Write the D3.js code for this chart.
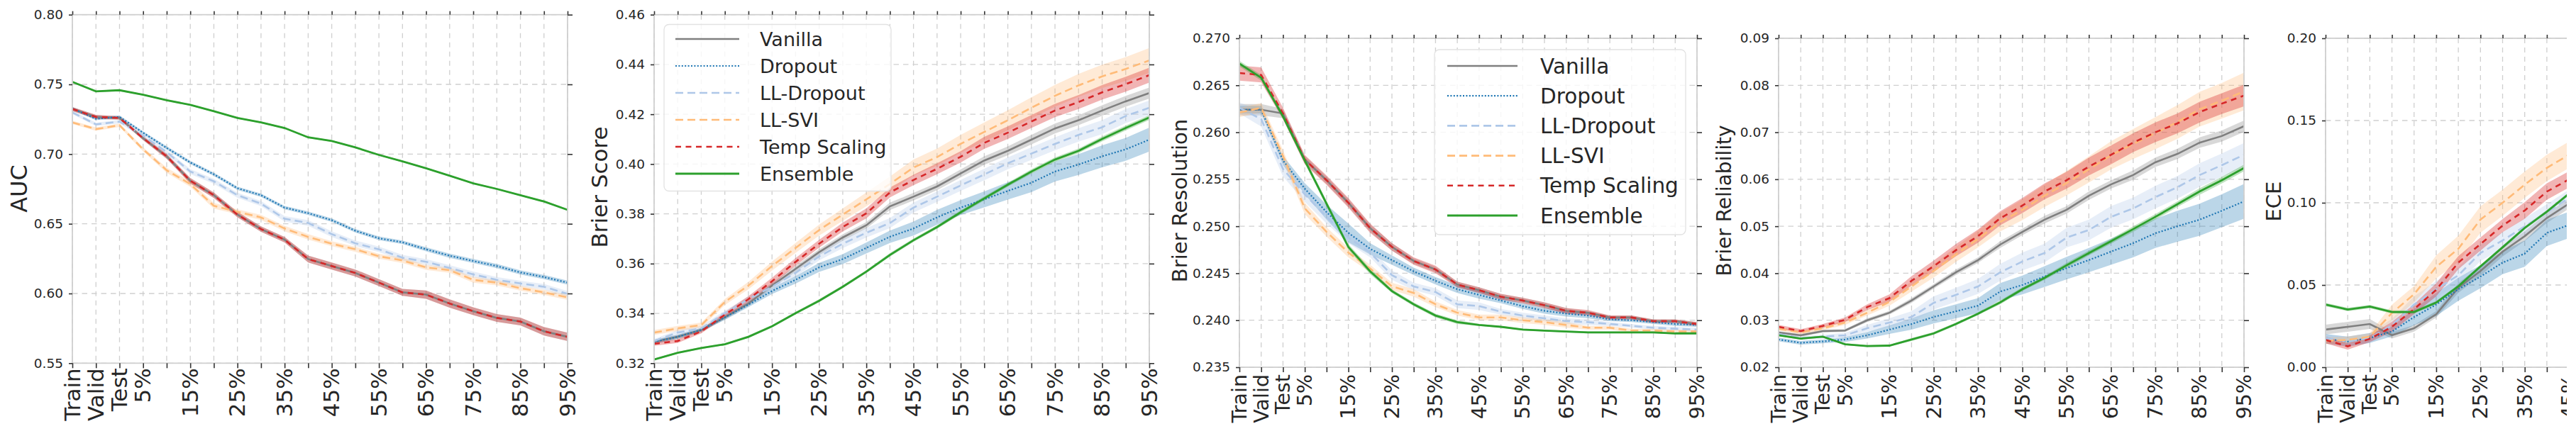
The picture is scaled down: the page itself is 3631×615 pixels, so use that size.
<!DOCTYPE html>
<html>
<head>
<meta charset="utf-8">
<script src="https://cdn.jsdelivr.net/npm/d3@7"></script>
<style>
    body { margin: 0; background: #fff; }
    text { font-family: "DejaVu Sans", sans-serif; fill: #262626; }
</style>
</head>
<body>
<svg id="chart" width="3631" height="615"></svg>
<script>

// Data
//-----
var categories = ["Train", "Valid", "Test", "5%", "10%", "15%", "20%", "25%", "30%", "35%", "40%",
    "45%", "50%", "55%", "60%", "65%", "70%", "75%", "80%", "85%", "90%", "95%"];
var tickLabels = ["Train", "Valid", "Test", "5%", "", "15%", "", "25%", "", "35%", "",
    "45%", "", "55%", "", "65%", "", "75%", "", "85%", "", "95%"];

var methods = ["Vanilla", "Dropout", "LL-Dropout", "LL-SVI", "Temp Scaling", "Ensemble"];

var aucTicks = [0.55, 0.60, 0.65, 0.70, 0.75, 0.80];
var brierTicks = [0.32, 0.34, 0.36, 0.38, 0.40, 0.42, 0.44, 0.46];
var resolutionTicks = [0.235, 0.240, 0.245, 0.250, 0.255, 0.260, 0.265, 0.270];
var reliabilityTicks = [0.02, 0.03, 0.04, 0.05, 0.06, 0.07, 0.08, 0.09];
var eceTicks = [0.00, 0.05, 0.10, 0.15, 0.20];

// rows follow the order of methods
var aucMean = [
    [0.7323, 0.7267, 0.7259, 0.7114, 0.6984, 0.6809, 0.6705, 0.6566, 0.6462, 0.6386, 0.6247, 0.6197, 0.6147, 0.6078, 0.6008, 0.5992, 0.5928, 0.5873, 0.5825, 0.5799, 0.5729, 0.5689],
    [0.7327, 0.7253, 0.7267, 0.7153, 0.7044, 0.6940, 0.6855, 0.6755, 0.6705, 0.6616, 0.6576, 0.6526, 0.6450, 0.6396, 0.6367, 0.6317, 0.6271, 0.6233, 0.6197, 0.6151, 0.6118, 0.6078],
    [0.7299, 0.7213, 0.7233, 0.7133, 0.7014, 0.6875, 0.6805, 0.6705, 0.6645, 0.6536, 0.6506, 0.6426, 0.6360, 0.6317, 0.6257, 0.6227, 0.6183, 0.6137, 0.6098, 0.6072, 0.6048, 0.5998],
    [0.7227, 0.7179, 0.7207, 0.7034, 0.6884, 0.6785, 0.6629, 0.6586, 0.6546, 0.6466, 0.6406, 0.6357, 0.6317, 0.6267, 0.6237, 0.6187, 0.6167, 0.6098, 0.6078, 0.6038, 0.6008, 0.5972],
    [0.7323, 0.7267, 0.7259, 0.7114, 0.6984, 0.6809, 0.6705, 0.6566, 0.6462, 0.6386, 0.6247, 0.6197, 0.6147, 0.6078, 0.6008, 0.5992, 0.5928, 0.5873, 0.5825, 0.5799, 0.5729, 0.5689],
    [0.7518, 0.7450, 0.7458, 0.7426, 0.7386, 0.7353, 0.7307, 0.7259, 0.7227, 0.7187, 0.7120, 0.7094, 0.7048, 0.6994, 0.6948, 0.6898, 0.6845, 0.6790, 0.6750, 0.6705, 0.6660, 0.6600]
];
var aucBand = [
    [0.0015, 0.0015, 0.0012, 0.0015, 0.0018, 0.002, 0.002, 0.002, 0.002, 0.002, 0.0025, 0.0025, 0.0025, 0.0025, 0.0025, 0.003, 0.003, 0.0028, 0.0028, 0.0028, 0.003, 0.003],
    [0.001, 0.001, 0.001, 0.001, 0.0012, 0.0012, 0.0012, 0.0012, 0.0012, 0.0012, 0.0013, 0.0013, 0.0013, 0.0013, 0.0013, 0.0015, 0.0015, 0.0015, 0.0015, 0.0015, 0.0015, 0.0015],
    [0.0012, 0.0012, 0.0012, 0.0015, 0.0015, 0.0018, 0.0018, 0.0018, 0.0018, 0.002, 0.002, 0.002, 0.002, 0.002, 0.002, 0.002, 0.002, 0.002, 0.002, 0.002, 0.002, 0.002],
    [0.0012, 0.0012, 0.0012, 0.0015, 0.0018, 0.002, 0.002, 0.0018, 0.0018, 0.002, 0.002, 0.0018, 0.0018, 0.0018, 0.0018, 0.0018, 0.0018, 0.002, 0.002, 0.0018, 0.0018, 0.0018],
    [0.0015, 0.0015, 0.0012, 0.0015, 0.0018, 0.002, 0.002, 0.002, 0.002, 0.002, 0.0025, 0.0025, 0.0025, 0.0025, 0.0025, 0.003, 0.003, 0.0028, 0.0028, 0.0028, 0.003, 0.003],
    [0.0006, 0.0006, 0.0006, 0.0006, 0.0006, 0.0006, 0.0006, 0.0006, 0.0006, 0.0006, 0.0006, 0.0006, 0.0006, 0.0006, 0.0006, 0.0006, 0.0006, 0.0006, 0.0006, 0.0006, 0.0006, 0.0006]
];

var brierMean = [
    [0.3286, 0.3306, 0.3334, 0.3384, 0.3440, 0.3512, 0.3579, 0.3646, 0.3705, 0.3754, 0.3830, 0.3869, 0.3910, 0.3962, 0.4014, 0.4053, 0.4098, 0.4143, 0.4176, 0.4215, 0.4252, 0.4285],
    [0.3286, 0.3306, 0.3334, 0.3384, 0.3435, 0.3490, 0.3535, 0.3585, 0.3618, 0.3663, 0.3708, 0.3741, 0.3786, 0.3825, 0.3858, 0.3892, 0.3925, 0.3970, 0.3998, 0.4031, 0.4059, 0.4098],
    [0.3289, 0.3323, 0.3340, 0.3401, 0.3457, 0.3507, 0.3563, 0.3629, 0.3680, 0.3724, 0.3763, 0.3825, 0.3869, 0.3914, 0.3958, 0.4003, 0.4042, 0.4081, 0.4117, 0.4148, 0.4193, 0.4226],
    [0.3323, 0.3340, 0.3353, 0.3446, 0.3512, 0.3590, 0.3663, 0.3735, 0.3797, 0.3858, 0.3920, 0.3986, 0.4028, 0.4081, 0.4129, 0.4176, 0.4226, 0.4274, 0.4316, 0.4352, 0.4382, 0.4416],
    [0.3278, 0.3289, 0.3328, 0.3395, 0.3457, 0.3529, 0.3607, 0.3680, 0.3747, 0.3802, 0.3886, 0.3936, 0.3981, 0.4029, 0.4085, 0.4126, 0.4171, 0.4215, 0.4249, 0.4288, 0.4321, 0.4357],
    [0.3215, 0.3242, 0.3261, 0.3276, 0.3306, 0.3348, 0.3401, 0.3451, 0.3507, 0.3568, 0.3635, 0.3694, 0.3747, 0.3806, 0.3862, 0.3917, 0.3970, 0.4018, 0.4053, 0.4101, 0.4145, 0.4187]
];
var brierBand = [
    [0.0008, 0.0008, 0.0008, 0.0008, 0.001, 0.001, 0.0012, 0.0012, 0.0013, 0.0013, 0.0015, 0.0015, 0.0015, 0.0016, 0.0017, 0.0018, 0.0019, 0.002, 0.002, 0.0021, 0.0022, 0.0022],
    [0.0008, 0.0008, 0.0008, 0.001, 0.001, 0.0012, 0.0015, 0.0018, 0.002, 0.0022, 0.0025, 0.0028, 0.003, 0.003, 0.0032, 0.0035, 0.0038, 0.004, 0.0042, 0.0044, 0.0046, 0.0048],
    [0.0008, 0.001, 0.001, 0.001, 0.0012, 0.0014, 0.0015, 0.0016, 0.0018, 0.0019, 0.002, 0.002, 0.0021, 0.0022, 0.0023, 0.0024, 0.0025, 0.0026, 0.0027, 0.0028, 0.0028, 0.0029],
    [0.001, 0.001, 0.001, 0.0012, 0.0015, 0.0018, 0.002, 0.0022, 0.0025, 0.0028, 0.003, 0.0032, 0.0034, 0.0036, 0.0038, 0.004, 0.0042, 0.0044, 0.0046, 0.0047, 0.0048, 0.005],
    [0.0008, 0.0008, 0.0008, 0.001, 0.0012, 0.0014, 0.0015, 0.0016, 0.0018, 0.002, 0.002, 0.0021, 0.0022, 0.0023, 0.0024, 0.0025, 0.0026, 0.0027, 0.0028, 0.0029, 0.003, 0.003],
    [0.0004, 0.0004, 0.0004, 0.0004, 0.0005, 0.0005, 0.0005, 0.0006, 0.0006, 0.0006, 0.0007, 0.0007, 0.0007, 0.0008, 0.0008, 0.0008, 0.0009, 0.0009, 0.0009, 0.001, 0.001, 0.001]
];

var resolutionMean = [
    [0.2624, 0.2624, 0.2620, 0.2571, 0.2549, 0.2525, 0.2498, 0.2478, 0.2463, 0.2454, 0.2438, 0.2432, 0.2425, 0.2421, 0.2416, 0.2410, 0.2408, 0.2403, 0.2403, 0.2399, 0.2399, 0.2396],
    [0.2624, 0.2624, 0.2570, 0.2540, 0.2515, 0.2493, 0.2476, 0.2464, 0.2452, 0.2442, 0.2433, 0.2427, 0.2421, 0.2415, 0.2410, 0.2407, 0.2405, 0.2401, 0.2400, 0.2398, 0.2396, 0.2395],
    [0.2626, 0.2614, 0.2561, 0.2534, 0.2510, 0.2488, 0.2472, 0.2448, 0.2436, 0.2430, 0.2417, 0.2415, 0.2409, 0.2405, 0.2402, 0.2399, 0.2398, 0.2396, 0.2394, 0.2392, 0.2391, 0.2390],
    [0.2621, 0.2626, 0.2575, 0.2519, 0.2494, 0.2472, 0.2455, 0.2436, 0.2429, 0.2417, 0.2408, 0.2403, 0.2403, 0.2400, 0.2398, 0.2395, 0.2392, 0.2392, 0.2389, 0.2389, 0.2388, 0.2388],
    [0.2663, 0.2661, 0.2620, 0.2571, 0.2549, 0.2525, 0.2498, 0.2478, 0.2463, 0.2454, 0.2438, 0.2432, 0.2425, 0.2421, 0.2416, 0.2410, 0.2408, 0.2403, 0.2403, 0.2399, 0.2399, 0.2396],
    [0.2673, 0.2658, 0.2617, 0.2570, 0.2524, 0.2478, 0.2452, 0.2431, 0.2417, 0.2405, 0.2398, 0.2395, 0.2393, 0.2390, 0.2389, 0.2388, 0.2387, 0.2387, 0.2387, 0.2387, 0.2386, 0.2386]
];
var resolutionBand = [
    [0.0006, 0.0006, 0.0005, 0.0004, 0.0004, 0.0004, 0.0004, 0.0004, 0.0003, 0.0003, 0.0003, 0.0003, 0.0003, 0.0003, 0.0003, 0.0003, 0.0002, 0.0002, 0.0002, 0.0002, 0.0002, 0.0002],
    [0.0004, 0.0004, 0.0005, 0.0006, 0.0008, 0.001, 0.0006, 0.0005, 0.0004, 0.0004, 0.0004, 0.0004, 0.0003, 0.0003, 0.0003, 0.0003, 0.0003, 0.0002, 0.0002, 0.0002, 0.0002, 0.0002],
    [0.0006, 0.0008, 0.0008, 0.0008, 0.0007, 0.0006, 0.0005, 0.0005, 0.0004, 0.0004, 0.0004, 0.0004, 0.0003, 0.0003, 0.0003, 0.0003, 0.0003, 0.0002, 0.0002, 0.0002, 0.0002, 0.0002],
    [0.0005, 0.0005, 0.0006, 0.0006, 0.0005, 0.0005, 0.0004, 0.0004, 0.0004, 0.0003, 0.0003, 0.0003, 0.0003, 0.0003, 0.0003, 0.0003, 0.0002, 0.0002, 0.0002, 0.0002, 0.0002, 0.0002],
    [0.0008, 0.0008, 0.0006, 0.0005, 0.0005, 0.0005, 0.0005, 0.0004, 0.0004, 0.0004, 0.0003, 0.0003, 0.0003, 0.0003, 0.0003, 0.0003, 0.0003, 0.0002, 0.0002, 0.0002, 0.0002, 0.0002],
    [0.0003, 0.0003, 0.0003, 0.0003, 0.0003, 0.0003, 0.0003, 0.0002, 0.0002, 0.0002, 0.0002, 0.0001, 0.0001, 0.0001, 0.0001, 0.0001, 0.0001, 0.0001, 0.0001, 0.0001, 0.0001, 0.0001]
];

var reliabilityMean = [
    [0.0274, 0.0268, 0.0277, 0.0278, 0.0300, 0.0316, 0.0342, 0.0372, 0.0402, 0.0428, 0.0461, 0.0488, 0.0514, 0.0535, 0.0565, 0.0589, 0.0609, 0.0636, 0.0654, 0.0678, 0.0692, 0.0713],
    [0.0259, 0.0252, 0.0255, 0.0259, 0.0268, 0.0280, 0.0292, 0.0307, 0.0319, 0.0331, 0.0361, 0.0375, 0.0393, 0.0411, 0.0428, 0.0446, 0.0464, 0.0485, 0.0500, 0.0514, 0.0533, 0.0553],
    [0.0271, 0.0262, 0.0265, 0.0268, 0.0283, 0.0295, 0.0307, 0.0337, 0.0354, 0.0372, 0.0402, 0.0425, 0.0443, 0.0476, 0.0492, 0.0520, 0.0538, 0.0562, 0.0583, 0.0609, 0.0630, 0.0652],
    [0.0282, 0.0274, 0.0283, 0.0295, 0.0316, 0.0339, 0.0372, 0.0405, 0.0440, 0.0473, 0.0509, 0.0535, 0.0565, 0.0592, 0.0621, 0.0651, 0.0675, 0.0698, 0.0722, 0.0749, 0.0767, 0.0787],
    [0.0286, 0.0277, 0.0288, 0.0301, 0.0328, 0.0347, 0.0384, 0.0415, 0.0449, 0.0479, 0.0517, 0.0544, 0.0574, 0.0598, 0.0627, 0.0652, 0.0678, 0.0700, 0.0719, 0.0743, 0.0761, 0.0778],
    [0.0268, 0.0261, 0.0265, 0.0249, 0.0245, 0.0246, 0.0259, 0.0272, 0.0292, 0.0314, 0.0338, 0.0366, 0.0390, 0.0417, 0.0443, 0.0468, 0.0494, 0.0520, 0.0547, 0.0574, 0.0598, 0.0624]
];
var reliabilityBand = [
    [0.0003, 0.0003, 0.0003, 0.0003, 0.0004, 0.0004, 0.0005, 0.0005, 0.0006, 0.0006, 0.0007, 0.0007, 0.0008, 0.0008, 0.0009, 0.0009, 0.001, 0.001, 0.0011, 0.0011, 0.0012, 0.0012],
    [0.0004, 0.0004, 0.0004, 0.0005, 0.0007, 0.0009, 0.0012, 0.0014, 0.0015, 0.0016, 0.0018, 0.002, 0.0022, 0.0024, 0.0026, 0.0028, 0.003, 0.0031, 0.0033, 0.0034, 0.0035, 0.0037],
    [0.0004, 0.0004, 0.0004, 0.0005, 0.0007, 0.0009, 0.0012, 0.0014, 0.0015, 0.0016, 0.0018, 0.0019, 0.002, 0.0021, 0.0022, 0.0023, 0.0023, 0.0024, 0.0024, 0.0025, 0.0025, 0.0025],
    [0.0004, 0.0004, 0.0004, 0.0005, 0.0006, 0.0008, 0.0011, 0.0014, 0.0016, 0.0018, 0.002, 0.0022, 0.0024, 0.0026, 0.0028, 0.003, 0.0032, 0.0034, 0.0036, 0.0037, 0.0038, 0.004],
    [0.0004, 0.0004, 0.0004, 0.0005, 0.0006, 0.0008, 0.001, 0.0012, 0.0013, 0.0014, 0.0015, 0.0016, 0.0017, 0.0018, 0.0019, 0.002, 0.002, 0.0021, 0.0021, 0.0022, 0.0022, 0.0023],
    [0.0002, 0.0002, 0.0002, 0.0002, 0.0002, 0.0002, 0.0003, 0.0003, 0.0003, 0.0003, 0.0004, 0.0004, 0.0004, 0.0005, 0.0005, 0.0005, 0.0006, 0.0006, 0.0006, 0.0007, 0.0007, 0.0007]
];

// the ECE panel is cut off in the picture, only the first points are visible
var eceMean = [
    [0.0229, 0.0246, 0.0263, 0.0195, 0.0237, 0.0322, 0.0483, 0.0585, 0.0703, 0.0797, 0.0907, 0.0995],
    [0.0173, 0.0156, 0.0178, 0.0217, 0.0305, 0.0381, 0.0474, 0.0551, 0.0636, 0.0691, 0.0817, 0.0865],
    [0.0178, 0.0156, 0.0178, 0.0254, 0.0381, 0.0474, 0.0559, 0.0695, 0.0771, 0.0856, 0.0941, 0.1030],
    [0.0161, 0.0166, 0.0186, 0.0330, 0.0444, 0.0610, 0.0720, 0.0898, 0.1000, 0.1110, 0.1212, 0.1292],
    [0.0166, 0.0127, 0.0173, 0.0246, 0.0353, 0.0471, 0.0636, 0.0749, 0.0861, 0.0953, 0.1068, 0.1142],
    [0.0381, 0.0351, 0.0369, 0.0336, 0.0336, 0.0393, 0.0492, 0.0613, 0.0729, 0.0847, 0.0946, 0.1055]
];
var eceBand = [
    [0.003, 0.003, 0.003, 0.002, 0.002, 0.002, 0.003, 0.003, 0.003, 0.003, 0.003, 0.003],
    [0.003, 0.003, 0.003, 0.003, 0.005, 0.007, 0.007, 0.007, 0.007, 0.008, 0.008, 0.008],
    [0.002, 0.003, 0.003, 0.004, 0.005, 0.005, 0.005, 0.005, 0.005, 0.005, 0.005, 0.005],
    [0.002, 0.002, 0.002, 0.005, 0.005, 0.007, 0.008, 0.008, 0.008, 0.008, 0.008, 0.008],
    [0.002, 0.002, 0.002, 0.003, 0.003, 0.004, 0.004, 0.004, 0.004, 0.005, 0.005, 0.005],
    [0.001, 0.001, 0.001, 0.001, 0.001, 0.001, 0.001, 0.001, 0.001, 0.001, 0.001, 0.001]
];

// Styles
//-------
var colors = ["#7f7f7f", "#1f77b4", "#aec7e8", "#ffbb78", "#d62728", "#2ca02c"];
var dashes = [null, "2,2.4", "11,6", "11,6", "8,6.5", null];
var widths = [2.6, 2.2, 2.6, 2.6, 2.6, 2.8];

var panels = [
    { mean: aucMean, band: aucBand, ticks: aucTicks, fmt: ".2f", label: "AUC",
      x0: 102, x1: 800, y0: 20.7, y1: 512.3, labelX: 38, labelY: 266, labelSize: 32, xFont: 31, xPad: 7 },
    { mean: brierMean, band: brierBand, ticks: brierTicks, fmt: ".2f", label: "Brier Score",
      x0: 922, x1: 1620, y0: 20.7, y1: 512.3, labelX: 856, labelY: 264, labelSize: 31, xFont: 31, xPad: 7,
      legend: { x: 936, y: 34.5, w: 320, h: 235, l0: 952, l1: 1042, tx: 1071, row: 55, dy: 38, font: 27 } },
    { mean: resolutionMean, band: resolutionBand, ticks: resolutionTicks, fmt: ".3f", label: "Brier Resolution",
      x0: 1747, x1: 2392, y0: 54, y1: 518, labelX: 1673, labelY: 283, labelSize: 29, xFont: 28.5, xPad: 10,
      legend: { x: 2022, y: 70, w: 354, h: 261, l0: 2040, l1: 2139, tx: 2171, row: 93, dy: 42.2, font: 29.5 } },
    { mean: reliabilityMean, band: reliabilityBand, ticks: reliabilityTicks, fmt: ".2f", label: "Brier Reliability",
      x0: 2507, x1: 3163, y0: 54, y1: 518, labelX: 2440, labelY: 283, labelSize: 28, xFont: 28.5, xPad: 10 },
    { mean: eceMean, band: eceBand, ticks: eceTicks, fmt: ".2f", label: "ECE",
      x0: 3278, x1: 3933, y0: 54, y1: 518, labelX: 3215, labelY: 284, labelSize: 29, xFont: 28.5, xPad: 10, clipAt: 3618 }
];

var svg = d3.select("#chart");
var defs = svg.append("defs");

panels.forEach(function (p, k) {

    var g = svg.append("g");
    if (p.clipAt) {
        defs.append("clipPath").attr("id", "clip" + k)
            .append("rect").attr("x", 0).attr("y", 0).attr("width", p.clipAt).attr("height", 615);
        g.attr("clip-path", "url(#clip" + k + ")");
    }

    var x = d3.scalePoint().domain(categories).range([p.x0, p.x1]);
    var y = d3.scaleLinear().domain(d3.extent(p.ticks)).range([p.y1, p.y0]);

    // Grid
    g.append("g").selectAll("line")
        .data(p.ticks)
        .enter()
        .append("line")
        .attr("x1", p.x0).attr("x2", p.x1)
        .attr("y1", function (d) { return y(d); })
        .attr("y2", function (d) { return y(d); })
        .attr("stroke", "#cfcfcf").attr("stroke-width", 1.3)
        .attr("stroke-dasharray", "7.5,6");

    g.append("g").selectAll("line")
        .data(categories)
        .enter()
        .append("line")
        .attr("x1", function (d) { return x(d); })
        .attr("x2", function (d) { return x(d); })
        .attr("y1", p.y0).attr("y2", p.y1)
        .attr("stroke", "#cfcfcf").attr("stroke-width", 1.3)
        .attr("stroke-dasharray", "7,6");

    // Bands, then lines on top
    var idx = d3.range(p.mean[0].length);
    p.mean.forEach(function (m, s) {
        var area = d3.area()
            .x(function (i) { return x(categories[i]); })
            .y0(function (i) { return y(m[i] - p.band[s][i]); })
            .y1(function (i) { return y(m[i] + p.band[s][i]); });
        g.append("path")
            .attr("d", area(idx))
            .attr("fill", colors[s])
            .attr("fill-opacity", s === 4 ? 0.35 : 0.3);
    });

    p.mean.forEach(function (m, s) {
        var line = d3.line()
            .x(function (d, i) { return x(categories[i]); })
            .y(function (d) { return y(d); });
        g.append("path")
            .attr("d", line(m))
            .attr("fill", "none")
            .attr("stroke", colors[s])
            .attr("stroke-width", widths[s])
            .attr("stroke-dasharray", dashes[s]);
    });

    // Spines
    g.append("rect")
        .attr("x", p.x0).attr("y", p.y0)
        .attr("width", p.x1 - p.x0).attr("height", p.y1 - p.y0)
        .attr("fill", "none")
        .attr("stroke", "#d0d0d0").attr("stroke-width", 1.8);

    // Axes
    var bottom = g.append("g")
        .attr("transform", "translate(0," + p.y1 + ")")
        .call(d3.axisBottom(x).tickSize(7).tickFormat(function (d, i) { return tickLabels[i]; }));
    bottom.selectAll("text")
        .attr("transform", "rotate(-90)")
        .attr("text-anchor", "end")
        .attr("x", -p.xPad).attr("y", 0).attr("dy", "0.33em")
        .style("font-size", p.xFont + "px");
    // labels that fall wholly past the cut edge are never seen
    if (p.clipAt) {
        bottom.selectAll(".tick")
            .filter(function (d) { return x(d) > p.clipAt + 12; })
            .remove();
    }

    g.append("g")
        .attr("transform", "translate(0," + p.y0 + ")")
        .call(d3.axisTop(x).tickSize(5).tickFormat(""));

    var left = g.append("g")
        .attr("transform", "translate(" + p.x0 + ",0)")
        .call(d3.axisLeft(y).tickValues(p.ticks).tickSize(5).tickPadding(8).tickFormat(d3.format(p.fmt)));
    left.selectAll("text").style("font-size", "18.5px");

    g.append("g")
        .attr("transform", "translate(" + p.x1 + ",0)")
        .call(d3.axisRight(y).tickValues(p.ticks).tickSize(7).tickFormat(""));

    g.selectAll(".domain").remove();
    g.selectAll(".tick line").attr("stroke", "#333").attr("stroke-width", 1.6);
    g.selectAll(".tick text").attr("fill", "#262626").style("font-family", "DejaVu Sans");

    // Y label
    g.append("text")
        .attr("transform", "translate(" + p.labelX + "," + p.labelY + ") rotate(-90)")
        .attr("text-anchor", "middle")
        .style("font-size", p.labelSize + "px")
        .text(p.label);

    // Legend
    if (p.legend) {
        var L = p.legend;
        var lg = g.append("g");
        lg.append("rect")
            .attr("x", L.x).attr("y", L.y).attr("width", L.w).attr("height", L.h)
            .attr("rx", 7)
            .attr("fill", "#fff").attr("fill-opacity", 0.8)
            .attr("stroke", "#e2e2e2").attr("stroke-width", 1.3);
        methods.forEach(function (name, s) {
            var ry = L.row + s * L.dy;
            lg.append("line")
                .attr("x1", L.l0).attr("x2", L.l1)
                .attr("y1", ry).attr("y2", ry)
                .attr("stroke", colors[s])
                .attr("stroke-width", widths[s])
                .attr("stroke-dasharray", dashes[s]);
            lg.append("text")
                .attr("x", L.tx).attr("y", ry)
                .attr("dy", "0.36em")
                .style("font-size", L.font + "px")
                .text(name);
        });
    }
});

</script>
</body>
</html>
